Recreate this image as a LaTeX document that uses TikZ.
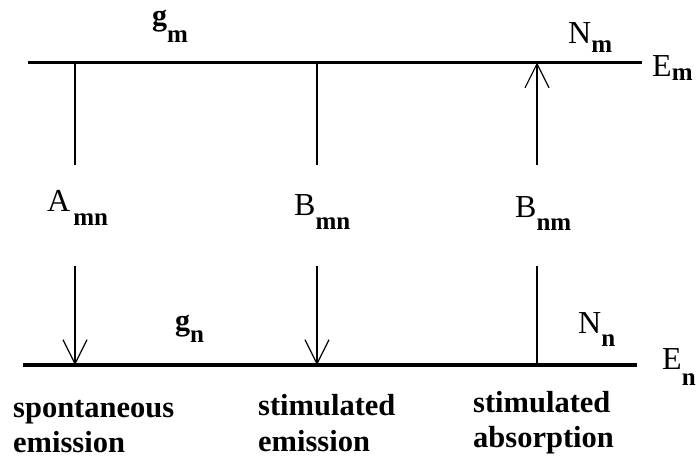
\documentclass[tikz,border=0pt]{standalone}
\usepackage{fontspec}
\setmainfont{Liberation Serif}
\usetikzlibrary{arrows.meta}
\newcommand{\bigtxt}{\fontsize{32}{32}\selectfont}
\newcommand{\gtxt}{\fontsize{30}{30}\selectfont\bfseries}
\newcommand{\subtxt}{\fontsize{25}{25}\selectfont\bfseries}
\newcommand{\lowtxt}{\fontsize{30.5}{30.5}\selectfont\bfseries}
\newcommand{\lsub}[2]{\raisebox{-#1pt}{\subtxt #2}}
\begin{document}
\begin{tikzpicture}[x=1pt,y=-1pt,
  energyline/.style={line width=3.5pt},
  trans/.style={line width=1.2pt},
  emit/.style={trans,-{Straight Barb[length=24pt,width=24pt,line width=1.2pt]}},
  lab/.style={inner sep=0pt,anchor=base west,font=\bigtxt},
  proclab/.style={inner sep=0pt,anchor=base west,font=\lowtxt}]
\useasboundingbox (0,0) rectangle (699,459);
% energy levels
\coordinate (mL) at (28,62.5);
\coordinate (mR) at (642,62.5);
\coordinate (nL) at (23,365);
\coordinate (nR) at (637,365);
\draw[energyline] (mL) -- (mR);
\draw[energyline] (nL) -- (nR);
% transition points
\coordinate (a1) at (75,62.5);  \coordinate (a2) at (75,165);
\coordinate (a3) at (75,266);   \coordinate (a4) at (75,365);
\coordinate (b1) at (317,62.5); \coordinate (b2) at (317,165);
\coordinate (b3) at (317,266);  \coordinate (b4) at (317,365);
\coordinate (c1) at (537,62.5); \coordinate (c2) at (537,165);
\coordinate (c3) at (537,266);  \coordinate (c4) at (537,365);
\draw[trans] (a1) -- (a2);
\draw[emit] (a3) -- (a4);
\draw[trans] (b1) -- (b2);
\draw[emit] (b3) -- (b4);
\draw[emit] (c2) -- (c1);
\draw[trans] (c3) -- (c4);
% labels
\node[lab,font=\gtxt] (gm) at (152,25) {g\lsub{17}{m}};
\node[lab,font=\gtxt] (gn) at (175,330) {g\lsub{12}{n}};
\node[lab] (Nm) at (568,43) {N\lsub{9}{m}};
\node[lab] (Nn) at (578,333) {N\lsub{13}{n}};
\node[lab] (Em) at (652,76) {E\lsub{4}{m}};
\node[lab] (En) at (662,369) {E\lsub{16}{n}};
\node[lab] (Amn) at (47,211) {A\hspace{3pt}\lsub{14}{mn}};
\node[lab] (Bmn) at (294,215) {B\lsub{14}{mn}};
\node[lab] (Bnm) at (515,217) {B\lsub{13}{nm}};
% process names
\node[proclab] (p1a) at (13,417) {spontaneous};
\node[proclab] (p1b) at (13,452) {emission};
\node[proclab] (p2a) at (258,415) {stimulated};
\node[proclab] (p2b) at (258,451) {emission};
\node[proclab] (p3a) at (473,412) {stimulated};
\node[proclab] (p3b) at (473,447) {absorption};
\end{tikzpicture}
\end{document}
